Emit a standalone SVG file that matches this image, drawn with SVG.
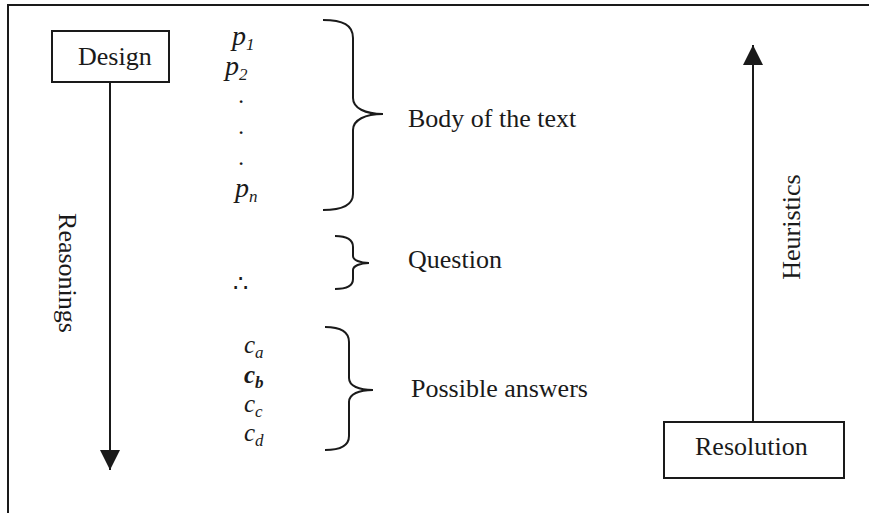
<svg xmlns="http://www.w3.org/2000/svg" width="869" height="513" viewBox="0 0 869 513">
<style>
.t{font-family:"Liberation Serif","Times New Roman",serif;font-size:26px;fill:#1a1a1a}
.m{font-family:"Liberation Serif","Times New Roman",serif;font-style:italic;font-size:28px;fill:#1a1a1a}
.c{font-family:"Liberation Serif","Times New Roman",serif;font-style:italic;font-size:25px;fill:#1a1a1a}
.d{font-family:"Liberation Serif","Times New Roman",serif;font-size:17px;font-weight:bold;fill:#1a1a1a}
.s{font-size:17px}
.box{fill:#fff;stroke:#1a1a1a;stroke-width:2}
.ln{fill:none;stroke:#1a1a1a;stroke-width:2}
.br{fill:none;stroke:#1a1a1a;stroke-width:2}
</style>
<defs>
<marker id="ah" viewBox="0 0 20 20" refX="20" refY="10" markerWidth="20" markerHeight="20" markerUnits="userSpaceOnUse" orient="auto">
<path d="M0,0 L20,10 L0,20 Z" fill="#1a1a1a"/>
</marker>
</defs>
<rect width="869" height="513" fill="#fff"/>
<g id="frame">
<path class="ln" d="M8,513 L8,5 L869,5"/>
</g>
<g id="connectors">
<line class="ln" x1="110" y1="82" x2="110" y2="470" marker-end="url(#ah)"/>
<line class="ln" x1="753" y1="422" x2="753" y2="45" marker-end="url(#ah)"/>
<text class="t" transform="translate(59,273) rotate(90)" text-anchor="middle">Reasonings</text>
<text class="t" transform="translate(800,227) rotate(-90)" text-anchor="middle">Heuristics</text>
</g>
<g id="design">
<rect class="box" x="52" y="31" width="117" height="51"/>
<text class="t" x="78" y="65">Design</text>
</g>
<g id="resolution">
<rect class="box" x="664" y="422" width="180" height="56"/>
<text class="t" x="695" y="455">Resolution</text>
</g>
<g id="premises">
<text class="m" x="232" y="45">p<tspan class="s" dy="5">1</tspan></text>
<text class="m" x="225" y="75">p<tspan class="s" dy="5">2</tspan></text>
<text class="d" x="239" y="103">.</text>
<text class="d" x="239" y="134">.</text>
<text class="d" x="239" y="165">.</text>
<text class="m" x="235" y="197">p<tspan class="s" dy="5">n</tspan></text>
</g>
<g id="body">
<path class="br" d="M323,20 C343,20 353,25 353,38 L353,98 C353,108 365,114 383,114 C365,114 353,120 353,130 L353,194 C353,205 343,210 323,210"/>
<text class="t" x="408" y="127">Body of the text</text>
</g>
<g id="question">
<text class="t" x="233" y="292" style="font-family:'DejaVu Serif','Liberation Serif',serif;font-size:24px">∴</text>
<path class="br" d="M335,236 C347,236 353,240 353,247 L353,256 C353,260 360,263 369,263 C360,263 353,266 353,270 L353,279 C353,286 347,289 335,289"/>
<text class="t" x="408" y="268">Question</text>
</g>
<g id="answers">
<text class="c" x="244" y="353">c<tspan class="s" dy="5">a</tspan></text>
<text class="c" x="244" y="383" font-weight="bold">c<tspan class="s" dy="5">b</tspan></text>
<text class="c" x="244" y="412">c<tspan class="s" dy="5">c</tspan></text>
<text class="c" x="244" y="441">c<tspan class="s" dy="5">d</tspan></text>
<path class="br" d="M325,327 C341,327 349,332 349,342 L349,378 C349,386 359,390 373,390 C359,390 349,394 349,402 L349,436 C349,446 341,450 325,450"/>
<text class="t" x="411" y="397">Possible answers</text>
</g>
</svg>
